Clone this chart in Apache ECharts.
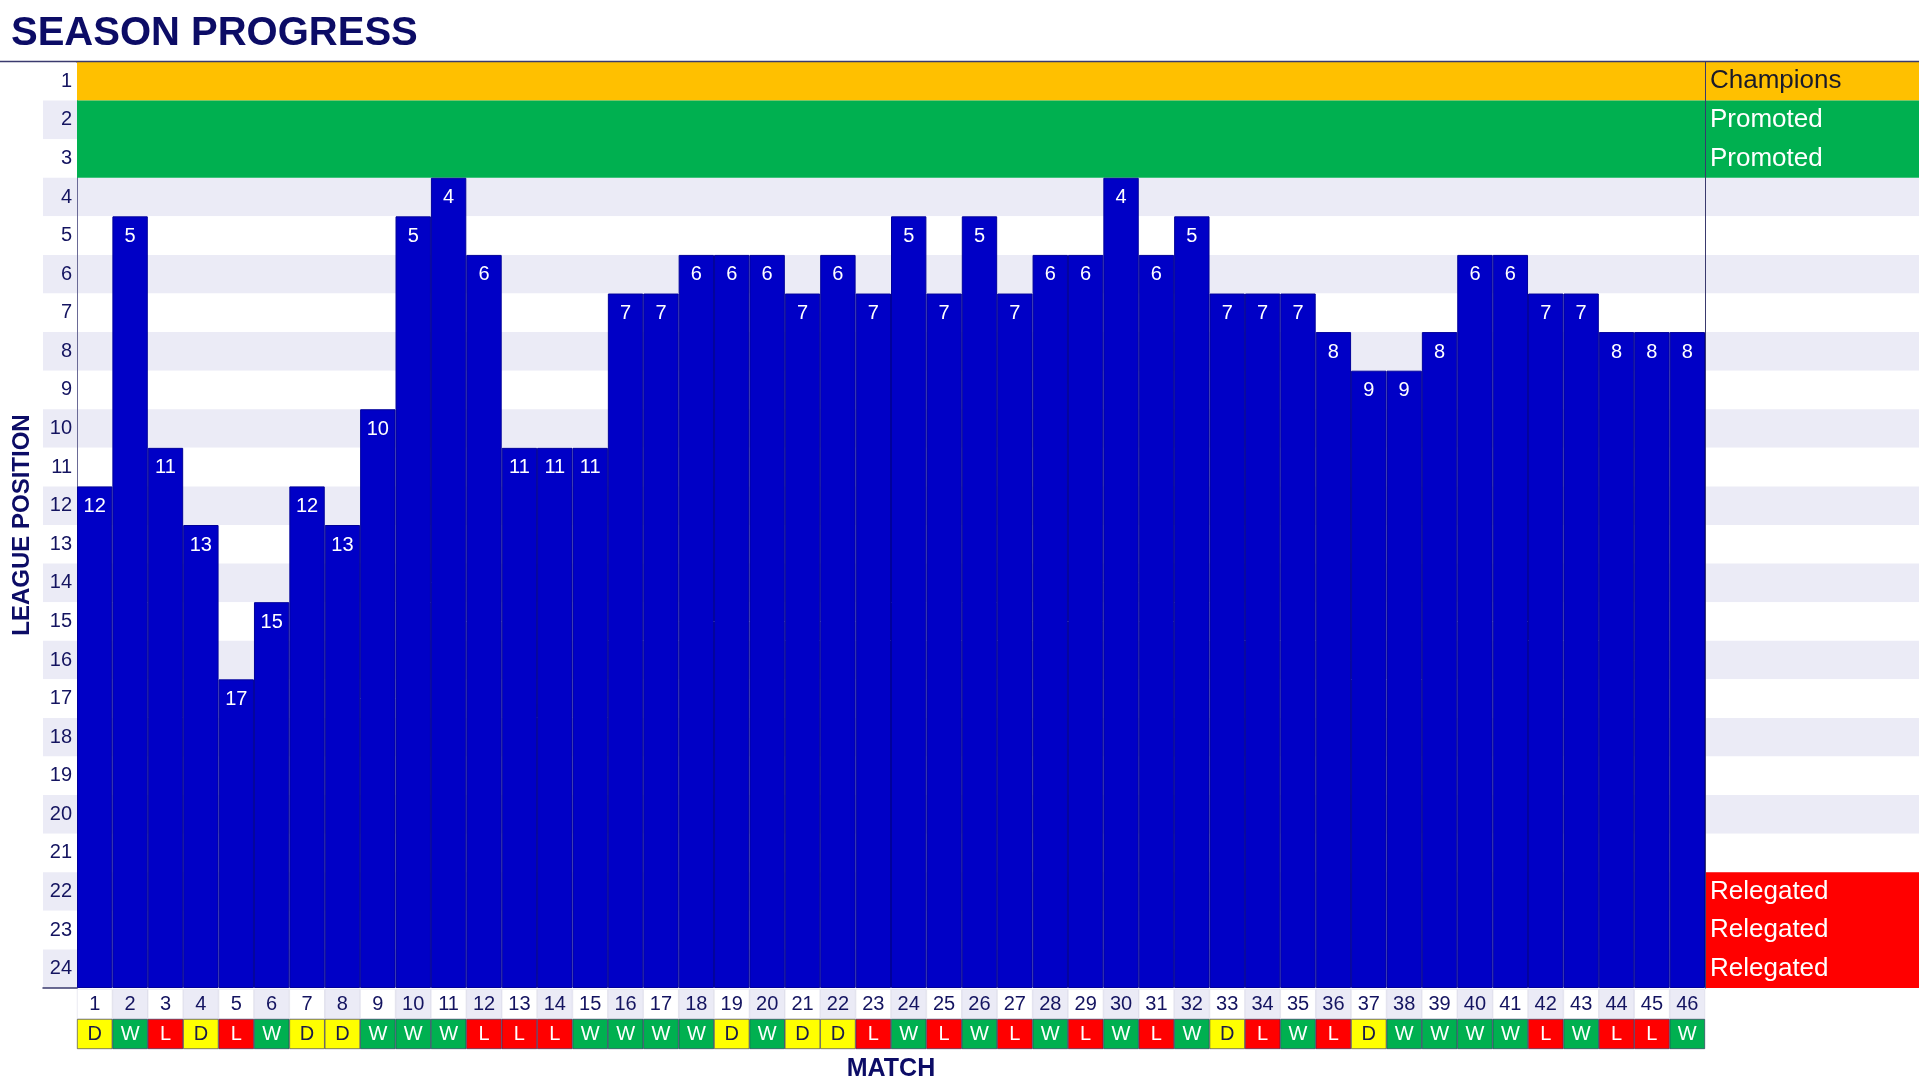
<!DOCTYPE html>
<html>
<head>
<meta charset="utf-8">
<script src="https://cdn.jsdelivr.net/npm/echarts@6/dist/echarts.min.js"></script>
<style>
html,body{margin:0;padding:0;background:#fff;}
#chart{width:1919px;height:1087px;}
</style>
</head>
<body>
<div id="chart"></div>
<script>
const matches = ['1','2','3','4','5','6','7','8','9','10','11','12','13','14','15','16','17','18','19','20','21','22','23','24','25','26','27','28','29','30','31','32','33','34','35','36','37','38','39','40','41','42','43','44','45','46'];
const positions = [12,5,11,13,17,15,12,13,10,5,4,6,11,11,11,7,7,6,6,6,7,6,7,5,7,5,7,6,6,4,6,5,7,7,7,8,9,9,8,6,6,7,7,8,8,8];
const results = ['D','W','L','D','L','W','D','D','W','W','W','L','L','L','W','W','W','W','D','W','D','D','L','W','L','W','L','W','L','W','L','W','D','L','W','L','D','W','W','W','W','L','W','L','L','W'];
const positionLabels = ['1','2','3','4','5','6','7','8','9','10','11','12','13','14','15','16','17','18','19','20','21','22','23','24'];
const zoneLabels = ['Champions','Promoted','Promoted','','','','','','','','','','','','','','','','','','','Relegated','Relegated','Relegated'];

const NAVY = '#141460';
const LAV = '#ebebf6';
const BLUE = '#0000c6';
const zoneColor = {Champions:'#ffc000', Promoted:'#00b050', Relegated:'#ff0000'};
const zoneText = {Champions:'#1a1a2a', Promoted:'#ffffff', Relegated:'#ffffff'};
const resColor = {W:'#00b050', D:'#ffff00', L:'#ff0000'};
const resText = {W:'#ffffff', D:'#1a1a4a', L:'#ffffff'};
const FONT = 'Liberation Sans, Arial, sans-serif';

// contiguous runs of zones (row k occupies [k-1,k] on the value axes)
function zoneRuns(filter) {
  const out = [];
  let start = -1;
  zoneLabels.forEach((z, i) => {
    if (!z || !filter(z)) { return; }
    if (start < 0) start = i;
    if (zoneLabels[i + 1] !== z) {
      out.push([{yAxis: start, itemStyle: {color: zoneColor[z], opacity: 1}}, {yAxis: i + 1}]);
      start = -1;
    }
  });
  return out;
}
const topAreas = zoneRuns(z => z !== 'Relegated');
const allAreas = zoneRuns(z => true);

const chart = echarts.init(document.getElementById('chart'), null, {renderer: 'canvas'});
const option = {
  animation: false,
  backgroundColor: '#ffffff',
  textStyle: {fontFamily: FONT},
  title: {
    text: 'SEASON PROGRESS', left: 6, top: 9,
    textStyle: {fontFamily: FONT, fontWeight: 'bold', fontSize: 40, color: '#0c0c66'}
  },
  graphic: [
    {type: 'line', shape: {x1: 0, y1: 61.5, x2: 1919, y2: 61.5}, style: {stroke: '#3a3a6e', lineWidth: 1.5}, z: 100}
  ],
  grid: [
    {left: 77, top: 62, width: 1628, height: 926},
    {left: 1705, top: 62, width: 214, height: 926},
    {left: 43, top: 62, width: 34, height: 926},
    {left: 77, top: 989, width: 1628, height: 60}
  ],
  xAxis: [
    {gridIndex: 0, type: 'category', data: matches, axisLabel: {show: false}, axisTick: {show: false},
     axisLine: {show: true, lineStyle: {color: '#3a3a6e', width: 1.5}}},
    {gridIndex: 1, type: 'value', min: 0, max: 1, axisLabel: {show: false}, axisTick: {show: false}, splitLine: {show: false},
     axisLine: {show: true, lineStyle: {color: '#3a3a6e', width: 1.5}}},
    {gridIndex: 2, type: 'value', min: 0, max: 1, axisLabel: {show: false}, axisTick: {show: false}, splitLine: {show: false},
     axisLine: {show: true, lineStyle: {color: '#3a3a6e', width: 1.5}}},
    {gridIndex: 3, type: 'category', data: matches, axisLabel: {show: false}, axisTick: {show: false},
     axisLine: {show: false},
     name: 'MATCH', nameLocation: 'middle', nameGap: 8,
     nameTextStyle: {fontFamily: FONT, fontWeight: 'bold', fontSize: 25, color: '#0c0c66', verticalAlign: 'top'}}
  ],
  yAxis: [
    {gridIndex: 0, type: 'value', min: 0, max: 24, interval: 1, inverse: true,
     axisLabel: {show: false}, axisTick: {show: false}, splitLine: {show: false},
     splitArea: {show: true, areaStyle: {color: ['#ffffff', LAV]}},
     axisLine: {show: true, lineStyle: {color: '#6a6a96', width: 1}},
     name: 'LEAGUE POSITION', nameLocation: 'middle', nameRotate: 90, nameGap: 43,
     nameTextStyle: {fontFamily: FONT, fontWeight: 'bold', fontSize: 24, color: '#0c0c66'}},
    {gridIndex: 1, type: 'value', min: 0, max: 24, interval: 1, inverse: true,
     axisLabel: {show: false}, axisTick: {show: false}, axisLine: {show: false}, splitLine: {show: false},
     splitArea: {show: true, areaStyle: {color: ['#ffffff', LAV]}}},
    {gridIndex: 2, type: 'category', data: positionLabels, inverse: true, position: 'right',
     axisLabel: {show: true, inside: true, margin: 5, fontSize: 20, color: NAVY, fontFamily: FONT},
     axisTick: {show: false}, axisLine: {show: false},
     splitArea: {show: true, areaStyle: {color: ['#ffffff', LAV]}}},
    {gridIndex: 3, type: 'value', min: 0, max: 2, inverse: true, show: false},
    {gridIndex: 1, type: 'category', data: positionLabels, inverse: true, position: 'left', z: 20,
     axisLabel: {show: false}, axisTick: {show: false}, splitArea: {show: false}, splitLine: {show: false},
     axisLine: {show: true, lineStyle: {color: '#3a3a6e', width: 1}}}
  ],
  series: [
    {
      name: 'base', type: 'bar', stack: 'pos', xAxisIndex: 0, yAxisIndex: 0,
      data: positions.map(p => p - 1), barCategoryGap: '0%',
      itemStyle: {color: 'rgba(0,0,0,0)'}, silent: true,
      markArea: {silent: true, data: topAreas}
    },
    {
      name: 'position', type: 'bar', stack: 'pos', xAxisIndex: 0, yAxisIndex: 0,
      data: positions.map(p => 25 - p), barCategoryGap: '0%',
      itemStyle: {color: BLUE, borderColor: '#00009a', borderWidth: 1},
      label: {show: true, position: 'insideTop', distance: 10, color: '#ffffff', fontSize: 20, fontFamily: FONT,
              formatter: p => String(positions[p.dataIndex])}
    },
    {
      name: 'zoneAreas', type: 'scatter', xAxisIndex: 1, yAxisIndex: 1, z: 1, silent: true,
      data: [], markArea: {silent: true, data: allAreas}
    },
    {
      name: 'zones', type: 'scatter', xAxisIndex: 1, yAxisIndex: 1, symbolSize: 0, silent: true, z: 10,
      data: zoneLabels.map((z, i) => z ? {value: [0, i + 0.5], label: {color: zoneText[z]}} : null).filter(d => d),
      label: {show: true, position: 'right', distance: 5, fontSize: 26, fontFamily: FONT, opacity: 1,
              formatter: p => zoneLabels[Math.floor(p.value[1])]}
    },
    {
      name: 'matchNo', type: 'bar', stack: 'tbl', xAxisIndex: 3, yAxisIndex: 3, barCategoryGap: '0%',
      data: matches.map((m, i) => ({value: 1, itemStyle: {color: i % 2 ? LAV : '#ffffff'}})),
      itemStyle: {borderColor: '#d4d4e4', borderWidth: 0.5},
      label: {show: true, position: 'inside', color: NAVY, fontSize: 20, fontFamily: FONT,
              formatter: p => matches[p.dataIndex]}
    },
    {
      name: 'result', type: 'bar', stack: 'tbl', xAxisIndex: 3, yAxisIndex: 3, barCategoryGap: '0%',
      data: results.map(r => ({value: 1, itemStyle: {color: resColor[r]}, label: {color: resText[r]}})),
      itemStyle: {borderColor: '#2a2a5a', borderWidth: 0.6},
      label: {show: true, position: 'inside', fontSize: 20, fontFamily: FONT,
              formatter: p => results[p.dataIndex]}
    }
  ]
};
chart.setOption(option);
</script>
</body>
</html>
